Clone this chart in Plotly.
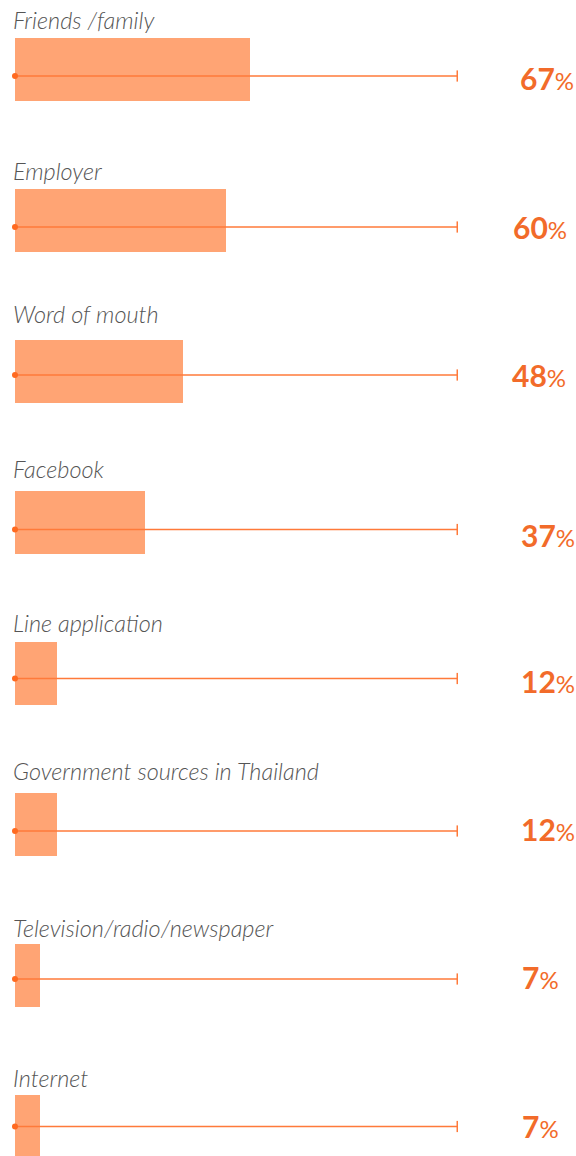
import plotly.graph_objects as go

categories = ["Friends /family", "Employer", "Word of mouth", "Facebook",
              "Line application", "Government sources in Thailand",
              "Television/radio/newspaper", "Internet"]
values = [67, 60, 48, 37, 12, 12, 7, 7]
track_max = 126  # length of the thin guide line, in % units

BAR_COLOR = "#FFA474"
LINE_COLOR = "#FF7A3A"
TEXT_COLOR = "#F26B2A"
LABEL_COLOR = "#555555"

W, H = 576, 1156
px_per_unit = 3.51
x0_px = 15
row_px = 151
first_center_px = 69.5
bar_h = 63 / row_px

# per-row layout tweaks (style, in pixels)
line_off_px = [6.5, 6.5, 3.5, 7, 5, 6.5, 3.5, 0]
label_gap_px = [18, 18, 26, 22, 19, 22, 16, 17]
num_x_px = [521, 514, 513, 522, 522, 522, 523, 523]
num_off_px = [1.5, 0, 0, 5, 2, -2, -2, -1]

rows = list(range(len(categories)))
line_y = [r + line_off_px[r] / row_px for r in rows]

fig = go.Figure()
fig.add_trace(go.Bar(
    y=rows, x=values, orientation="h", width=bar_h,
    marker=dict(color=BAR_COLOR, line=dict(width=0)),
    hoverinfo="skip", showlegend=False,
))

lx, ly = [], []
for r in rows:
    lx += [0, track_max, None]
    ly += [line_y[r], line_y[r], None]
fig.add_trace(go.Scatter(x=lx, y=ly, mode="lines",
                         line=dict(color=LINE_COLOR, width=1.5),
                         hoverinfo="skip", showlegend=False))
fig.add_trace(go.Scatter(x=[0] * len(rows), y=line_y, mode="markers",
                         marker=dict(color="#FF6A20", size=6, symbol="circle"),
                         hoverinfo="skip", showlegend=False))
fig.add_trace(go.Scatter(x=[track_max] * len(rows), y=line_y, mode="markers",
                         marker=dict(color=LINE_COLOR, size=8, symbol="line-ns",
                                     line=dict(color=LINE_COLOR, width=1.5)),
                         hoverinfo="skip", showlegend=False))

for r, (cat, v) in enumerate(zip(categories, values)):
    fig.add_annotation(
        x=11 / W, xref="paper", xanchor="left",
        y=r - bar_h / 2, yref="y", yanchor="bottom",
        yshift=2 + (label_gap_px[r] - 18),
        text=cat, showarrow=False,
        font=dict(family="Lato", size=23.5, color=LABEL_COLOR, style="italic", weight=300),
    )
    fig.add_annotation(
        x=(num_x_px[r] - 3) / W, xref="paper", xanchor="left",
        y=line_y[r], yref="y", yanchor="middle", yshift=-num_off_px[r],
        text=f"<b>{v}</b><span style='font-size:24px'>%</span>", showarrow=False,
        font=dict(family="Lato", size=30, color=TEXT_COLOR),
    )

x_min = -x0_px / px_per_unit
x_max = (W - x0_px) / px_per_unit
y_top = -first_center_px / row_px
y_bot = (H - first_center_px) / row_px

fig.update_layout(
    width=W, height=H, margin=dict(l=0, r=0, t=0, b=0),
    paper_bgcolor="white", plot_bgcolor="white",
    xaxis=dict(range=[x_min, x_max], visible=False, fixedrange=True),
    yaxis=dict(range=[y_bot, y_top], visible=False, fixedrange=True),
    bargap=0,
)
fig.write_html("out.html")
